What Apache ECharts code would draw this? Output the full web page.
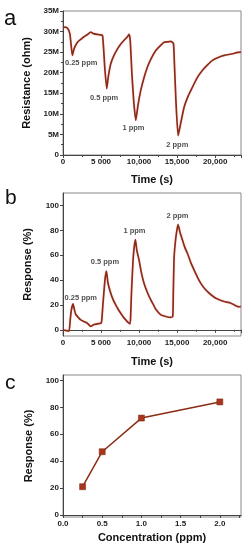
<!DOCTYPE html>
<html>
<head>
<meta charset="utf-8">
<script src="https://cdn.jsdelivr.net/npm/echarts@6/dist/echarts.min.js"></script>
<style>
html,body{margin:0;padding:0;background:#fff;}
#chart{width:250px;height:550px;}
</style>
</head>
<body>
<div id="chart"></div>
<script>
// ---------- data ----------
var timeTickValues = [0, 5000, 10000, 15000, 20000];
var timeTickLabels = ['0', '5 000', '10,000', '15,000', '20,000'];
var concTickValues = [0, 0.5, 1.0, 1.5, 2.0];
var concTickLabels = ['0.0', '0.5', '1.0', '1.5', '2.0'];
var responseTickValues = [0, 20, 40, 60, 80, 100];

var timeA = [0,300,600,900,1050,1230,1450,1900,2400,2800,3300,3640,4000,4500,5000,5200,5350,5500,5750,5950,6280,6700,7160,7600,8030,8400,8700,8850,9050,9300,9570,9850,10220,10650,11100,11600,12200,12800,13290,13700,14170,14520,14650,14850,15130,15450,15920,16450,17020,17650,18340,19000,19650,20400,21190,22290,22800,23290,23400];
var resistA = [31.0,31.1,30.8,29.5,27.0,24.2,25.8,27.4,28.2,28.8,29.4,29.9,29.5,29.3,29.2,29.0,25.5,21.0,16.1,19.0,22.2,24.2,25.8,27.0,27.9,28.6,29.3,27.5,20.0,13.0,8.4,12.0,15.7,18.8,21.4,23.5,25.4,26.6,27.4,27.5,27.6,27.1,22.0,13.0,4.7,7.5,11.6,14.3,16.5,18.8,20.6,21.9,23.0,23.7,24.2,24.6,24.9,25.0,24.9];

var timeB = [0,300,790,950,1100,1320,1500,1670,2000,2330,2800,3200,3640,4000,4520,5000,5100,5220,5400,5550,5710,5900,6280,6600,6930,7250,7590,7900,8250,8550,8820,8900,9000,9200,9350,9520,9700,10000,10300,10660,11100,11540,11900,12200,12860,13510,14170,14430,14500,14610,14830,15000,15130,15400,15710,16000,16370,16800,17240,17700,18120,18500,19000,19500,20090,20600,21190,21700,22000,22290,22800,23100,23380];
var responseB = [0,-0.5,-1,8,16,20.8,16,12.5,10,8,6.5,5.3,2.7,4,4.8,5.3,8,18,32,42,47.2,38,29.3,24,20,16.5,13.3,10.5,8,6,4.8,12,30,55,66,72.5,64,56,46,37.3,30,24,20,16.5,12,10.7,10,10.7,30,58.7,74,81,84.5,78,72,66.5,61.3,54,48,42,37.3,34,30.7,28,25.3,24,22.7,22,21.5,20.8,19.2,18.5,18.7];

var concC = [0.25, 0.5, 1.0, 2.0];
var responseC = [21, 47, 72, 84];

var annText = ['0.25 ppm', '0.5 ppm', '1 ppm', '2 ppm'];
var annTimeA = [2390, 5400, 9260, 15030];
var annValA = [22.4, 13.8, 6.6, 2.5];
var annTimeB = [2330, 5510, 9390, 15050];
var annValB = [25.3, 54.7, 79.4, 91.2];

// ---------- helpers ----------
function zip(a, b) { return a.map(function (v, i) { return [v, b[i]]; }); }
function zip3(a, b, c) { return a.map(function (v, i) { return [v, b[i], c[i]]; }); }

var LINE = '#8c2c14';
var FONT = 'Liberation Sans, Arial, sans-serif';
var tickLabelStyle = { color: '#222', fontSize: 8, fontWeight: 'bold', fontFamily: FONT };
var nameStyle = { color: '#111', fontSize: 11, fontWeight: 'bold', fontFamily: FONT };
var axisLineStyle = { show: true, lineStyle: { color: '#444', width: 1 } };
var tickStyle = { show: true, length: 3, inside: false, lineStyle: { color: '#444' } };
var minorStyle = { show: true, length: 2, splitNumber: 2, lineStyle: { color: '#444' } };

function timeAxis(gi, gap) {
  return {
    type: 'value', gridIndex: gi, min: 0, max: 23400, interval: 5000,
    name: 'Time (s)', nameLocation: 'middle', nameGap: gap, nameTextStyle: nameStyle,
    axisLine: axisLineStyle, axisTick: tickStyle, minorTick: minorStyle,
    splitLine: { show: false },
    axisLabel: Object.assign({ margin: 3, formatter: function (v) {
      var i = timeTickValues.indexOf(v); return i >= 0 ? timeTickLabels[i] : '';
    } }, tickLabelStyle)
  };
}

var option = {
  animation: false,
  backgroundColor: '#fff',
  grid: [
    { left: 63, right: 9, top: 11, height: 144, show: true, borderColor: '#888', borderWidth: 1 },
    { left: 63, right: 9, top: 193, height: 143, show: true, borderColor: '#888', borderWidth: 1 },
    { left: 63, right: 9, top: 375, height: 142, show: true, borderColor: '#888', borderWidth: 1 }
  ],
  graphic: [
    { type: 'text', left: 4, top: 8, style: { text: 'a', fontSize: 22, fontFamily: FONT, fill: '#111' } },
    { type: 'text', left: 5, top: 188, style: { text: 'b', fontSize: 21, fontFamily: FONT, fill: '#111' } },
    { type: 'text', left: 5, top: 373, style: { text: 'c', fontSize: 21, fontFamily: FONT, fill: '#111' } }
  ],
  xAxis: [
    timeAxis(0, 19),
    timeAxis(1, 20),
    {
      type: 'value', gridIndex: 2, min: 0, max: 2.27,
      name: 'Concentration (ppm)', nameLocation: 'middle', nameGap: 15, nameTextStyle: nameStyle,
      axisLine: axisLineStyle,
      axisTick: Object.assign({ customValues: [0, 0.25, 0.5, 0.75, 1.0, 1.25, 1.5, 1.75, 2.0, 2.25] }, tickStyle),
      splitLine: { show: false },
      axisLabel: Object.assign({ margin: 3, customValues: concTickValues, formatter: function (v) {
        var i = concTickValues.indexOf(v); return i >= 0 ? concTickLabels[i] : '';
      } }, tickLabelStyle)
    }
  ],
  yAxis: [
    {
      type: 'value', gridIndex: 0, min: 0, max: 35, interval: 5,
      name: 'Resistance (ohm)', nameLocation: 'middle', nameGap: 30, nameTextStyle: nameStyle,
      axisLine: axisLineStyle, axisTick: tickStyle, minorTick: minorStyle,
      splitLine: { show: false },
      axisLabel: Object.assign({ margin: 4, formatter: function (v) { return v === 0 ? '0' : v + 'M'; } }, tickLabelStyle)
    },
    {
      type: 'value', gridIndex: 1, min: -5, max: 110,
      name: 'Response (%)', nameLocation: 'middle', nameGap: 30, nameTextStyle: nameStyle,
      axisLine: axisLineStyle,
      axisTick: Object.assign({ customValues: responseTickValues }, tickStyle),
      splitLine: { show: false },
      axisLabel: Object.assign({ margin: 4, customValues: responseTickValues }, tickLabelStyle)
    },
    {
      type: 'value', gridIndex: 2, min: -1.5, max: 104,
      name: 'Response (%)', nameLocation: 'middle', nameGap: 27, nameTextStyle: nameStyle,
      axisLine: axisLineStyle,
      axisTick: Object.assign({ customValues: responseTickValues }, tickStyle),
      splitLine: { show: false },
      axisLabel: Object.assign({ margin: 4, customValues: responseTickValues }, tickLabelStyle)
    }
  ],
  series: [
    {
      type: 'line', xAxisIndex: 0, yAxisIndex: 0, data: zip(timeA, resistA),
      showSymbol: false, smooth: 0.15, lineStyle: { color: LINE, width: 1.7, shadowColor: 'rgba(255,80,130,0.25)', shadowBlur: 2 }
    },
    {
      type: 'line', xAxisIndex: 1, yAxisIndex: 1, data: zip(timeB, responseB),
      showSymbol: false, smooth: 0.15, lineStyle: { color: LINE, width: 1.7, shadowColor: 'rgba(255,80,130,0.25)', shadowBlur: 2 }
    },
    {
      type: 'line', xAxisIndex: 2, yAxisIndex: 2, data: zip(concC, responseC),
      symbol: 'rect', symbolSize: 6, showSymbol: true,
      lineStyle: { color: LINE, width: 1.5 },
      itemStyle: { color: '#a8361c', borderColor: '#7a2010', borderWidth: 0.5 }
    },
    {
      type: 'scatter', xAxisIndex: 0, yAxisIndex: 0, data: zip3(annTimeA, annValA, annText),
      symbolSize: 1, itemStyle: { color: 'rgba(0,0,0,0)' }, silent: true,
      label: { show: true, position: 'inside', formatter: function (p) { return p.value[2]; },
        color: '#222', fontSize: 7.5, fontWeight: 'bold', fontFamily: FONT }
    },
    {
      type: 'scatter', xAxisIndex: 1, yAxisIndex: 1, data: zip3(annTimeB, annValB, annText),
      symbolSize: 1, itemStyle: { color: 'rgba(0,0,0,0)' }, silent: true,
      label: { show: true, position: 'inside', formatter: function (p) { return p.value[2]; },
        color: '#222', fontSize: 7.5, fontWeight: 'bold', fontFamily: FONT }
    }
  ]
};

var chart = echarts.init(document.getElementById('chart'), null, { renderer: 'canvas' });
chart.setOption(option);
</script>
</body>
</html>
